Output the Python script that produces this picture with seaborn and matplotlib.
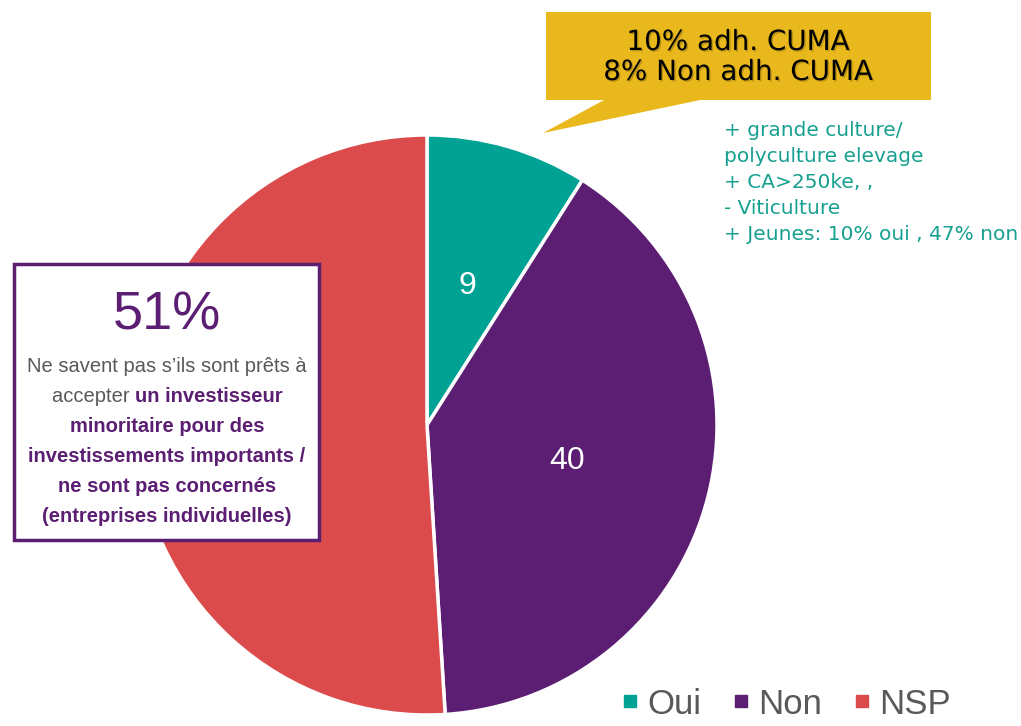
import matplotlib
matplotlib.use("Agg")
import matplotlib.pyplot as plt
import matplotlib.patheffects as pe
from matplotlib.patches import Polygon, Rectangle
from matplotlib.lines import Line2D
import seaborn as sns

# ---------------------------------------------------------------------------
# Data
# ---------------------------------------------------------------------------
categories = ["Oui", "Non", "NSP"]
values = [9, 40, 51]
colors = ["#00a293", "#5b1e72", "#db4b4b"]

callout_lines = ["10% adh. CUMA", "8% Non adh. CUMA"]
note_lines = [
    "+ grande culture/",
    "polyculture elevage",
    "+ CA>250ke, ,",
    "- Viticulture",
    "+ Jeunes: 10% oui , 47% non",
]
box_pct = "51%"

W, H = 1021, 726
PURPLE = "#5b1e72"
GREY = "#595959"

sns.set_theme(style="white")
plt.rcParams["font.family"] = ["DejaVu Sans"]
palette = sns.color_palette(colors)


def px(x, y):
    return x / W, 1 - y / H


fig = plt.figure(figsize=(W / 100, H / 100), dpi=100)
fig.patch.set_facecolor("white")

# ---------------------------------------------------------------------------
# Pie
# ---------------------------------------------------------------------------
cx, cy, r = 427, 425, 290
ax = fig.add_axes([(cx - r) / W, 1 - (cy + r) / H, 2 * r / W, 2 * r / H])
wedges, texts, autotexts = ax.pie(
    values, colors=palette, startangle=90, counterclock=False,
    autopct=lambda p: f"{p:.0f}", pctdistance=0.5,
    wedgeprops={"edgecolor": "white", "linewidth": 2.5},
    textprops={"color": "white", "fontsize": 23, "family": "Liberation Sans"},
)
ax.set_aspect("auto")
ax.set_xlim(-1, 1)
ax.set_ylim(-1, 1)
ax.axis("off")

# ---------------------------------------------------------------------------
# Yellow callout
# ---------------------------------------------------------------------------
over = fig.add_axes([0, 0, 1, 1], zorder=5)
over.set_xlim(0, W)
over.set_ylim(H, 0)
over.axis("off")

over.add_patch(Rectangle((546, 12), 385, 88, facecolor="#e9b81c", edgecolor="none"))
over.add_patch(Polygon([(606, 99), (705, 99), (543, 133)], closed=True,
                       facecolor="#e9b81c", edgecolor="none"))
for i, line in enumerate(callout_lines):
    over.text(738, 42 + i * 30, line, ha="center", va="center", fontsize=20,
              color="black",
              path_effects=[pe.withSimplePatchShadow(offset=(1, -1), alpha=0.2)])

for i, line in enumerate(note_lines):
    over.text(724, 131 + i * 25.8, line, ha="left", va="center", fontsize=14.5,
              color="#17a090")

# ---------------------------------------------------------------------------
# Purple box
# ---------------------------------------------------------------------------
over.add_patch(Rectangle((14, 264), 305, 276, facecolor="white",
                         edgecolor=PURPLE, linewidth=2.5))
narrow = ["Liberation Sans Narrow", "Liberation Sans", "DejaVu Sans"]
over.text(167, 316, box_pct, ha="center", va="center", fontsize=39,
          color=PURPLE, family=["Liberation Sans"])

box_lines = [
    [("Ne savent pas s\u2019ils sont prêts à", GREY, "normal")],
    [("accepter ", GREY, "normal"), ("un investisseur", PURPLE, "bold")],
    [("minoritaire pour des", PURPLE, "bold")],
    [("investissements importants /", PURPLE, "bold")],
    [("ne sont pas concernés", PURPLE, "bold")],
    [("(entreprises individuelles)", PURPLE, "bold")],
]

fig.canvas.draw()
renderer = fig.canvas.get_renderer()
for i, parts in enumerate(box_lines):
    y = 366 + i * 30
    items = []
    for txt, col, wt in parts:
        t = over.text(0, y, txt, ha="left", va="center", fontsize=14.5,
                      color=col, fontweight=wt, family=narrow)
        items.append(t)
    widths = [t.get_window_extent(renderer).width for t in items]
    x0 = 167 - sum(widths) / 2
    for t, w in zip(items, widths):
        t.set_x(x0)
        x0 += w

# ---------------------------------------------------------------------------
# Legend
# ---------------------------------------------------------------------------
handles = [Line2D([0], [0], marker="s", linestyle="none", markersize=9,
                  markerfacecolor=c, markeredgecolor=c) for c in palette]
fig.legend(handles, categories, loc="center", bbox_to_anchor=px(787, 704),
           ncol=3, frameon=False, handlelength=0.4, handletextpad=0.3,
           columnspacing=0.95, borderpad=0.1, labelcolor=GREY,
           prop={"family": "Liberation Sans", "size": 25})

fig.savefig("out.png", dpi=100, facecolor="white")
plt.close(fig)
